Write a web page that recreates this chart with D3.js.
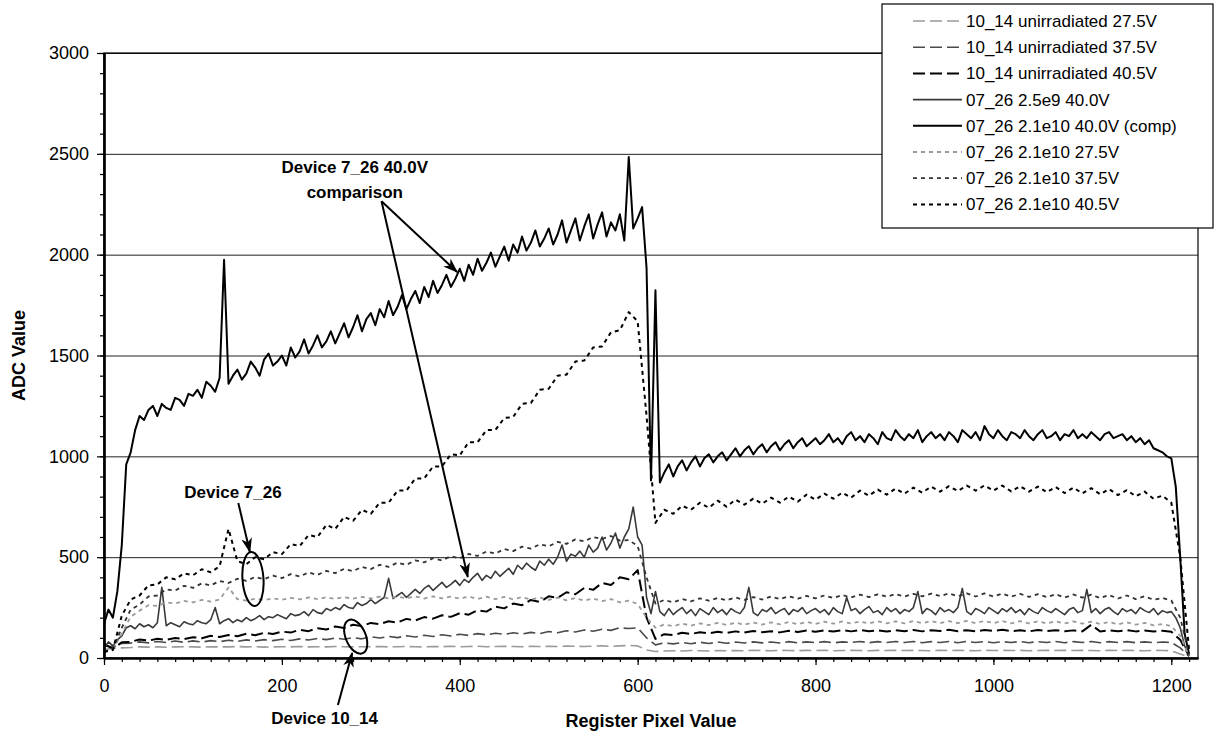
<!DOCTYPE html>
<html>
<head>
<meta charset="utf-8">
<script src="https://cdn.jsdelivr.net/npm/d3@7/dist/d3.min.js"></script>
<style>
    body { margin: 0; background: #fff; }
    svg { display: block; font-family: Arial, "Liberation Sans", sans-serif; }
</style>
</head>
<body>
<div id="chart"></div>
<script>
'use strict';

// register pixels the series were read at
var pixelsFine = d3.range(0, 1221, 5);
var pixelsCoarse = d3.range(0, 1221, 10);

var xTicks = [0, 200, 400, 600, 800, 1000, 1200];
var yTicks = [0, 500, 1000, 1500, 2000, 2500, 3000];

var seriesNames = [
    '10_14 unirradiated 27.5V',
    '10_14 unirradiated 37.5V',
    '10_14 unirradiated 40.5V',
    '07_26 2.5e9 40.0V',
    '07_26 2.1e10 40.0V (comp)',
    '07_26 2.1e10 27.5V',
    '07_26 2.1e10 37.5V',
    '07_26 2.1e10 40.5V'
];

// 10_14 unirradiated, every 10 pixels
var unirr275 = [
    40, 50, 50, 52, 55, 54, 55, 53, 55, 56,
    55, 54, 56, 55, 55, 57, 55, 56, 54, 55,
    56, 55, 57, 55, 56, 55, 57, 56, 55, 56,
    56, 57, 55, 56, 57, 56, 55, 57, 56, 58,
    56, 57, 58, 56, 57, 58, 57, 56, 58, 57,
    58, 57, 59, 58, 57, 59, 60, 58, 60, 62,
    60, 40, 32, 35, 36, 35, 37, 36, 35, 37,
    36, 37, 36, 38, 37, 36, 38, 37, 36, 38,
    37, 38, 36, 37, 38, 37, 36, 38, 37, 38,
    37, 38, 37, 36, 38, 37, 38, 37, 36, 38,
    37, 38, 37, 38, 36, 37, 38, 37, 38, 37,
    38, 37, 36, 38, 37, 38, 37, 36, 38, 37,
    36, 20, 5
];
var unirr375 = [
    60, 55, 72, 74, 80, 75, 82, 77, 84, 78,
    85, 79, 86, 81, 88, 82, 90, 84, 91, 86,
    93, 87, 95, 89, 97, 91, 99, 93, 101, 95,
    105, 99, 107, 101, 110, 104, 113, 107, 115, 109,
    118, 112, 121, 115, 123, 117, 125, 119, 127, 121,
    131, 125, 135, 129, 139, 133, 143, 137, 150, 146,
    150, 100, 65, 75, 70, 77, 71, 78, 72, 79,
    73, 79, 74, 80, 75, 79, 74, 81, 75, 80,
    76, 81, 75, 80, 77, 82, 76, 81, 77, 82,
    77, 82, 76, 81, 77, 82, 76, 82, 77, 81,
    76, 81, 77, 82, 76, 81, 77, 82, 76, 81,
    77, 82, 76, 81, 77, 81, 76, 80, 76, 79,
    77, 50, 8
];
var unirr405 = [
    70, 45, 78, 80, 92, 86, 95, 90, 99, 94,
    103, 98, 110, 104, 114, 108, 120, 113, 125, 119,
    131, 126, 140, 133, 148, 141, 156, 149, 165, 158,
    174, 168, 182, 176, 194, 186, 203, 195, 212, 204,
    222, 215, 237, 230, 255, 246, 270, 262, 288, 278,
    306, 298, 326, 316, 348, 338, 372, 362, 400, 390,
    436, 200, 95, 118, 114, 125, 119, 128, 122, 130,
    124, 132, 126, 134, 128, 133, 127, 135, 129, 136,
    130, 137, 131, 138, 132, 139, 133, 137, 131, 138,
    133, 139, 132, 138, 134, 140, 133, 138, 132, 139,
    134, 140, 133, 138, 132, 139, 134, 138, 133, 137,
    132, 165, 131, 137, 133, 138, 132, 136, 131, 135,
    130, 90, 10
];

// 07_26 at 40.0V, every 5 pixels
var low40 = [
    50, 80, 60, 90, 110, 150, 160, 145, 170, 155,
    165, 150, 175, 350, 160, 175, 165, 155, 180, 170,
    165, 185, 175, 170, 190, 250, 170, 185, 195, 175,
    190, 180, 200, 185, 195, 210, 190, 205, 200, 215,
    205, 195, 220, 210, 215, 230, 210, 240, 225, 220,
    245, 235, 250, 240, 265, 250, 245, 275, 260, 270,
    290, 270, 285, 300, 395, 295, 310, 325, 300, 320,
    340, 320, 345, 360, 335, 355, 375, 350, 365, 385,
    360, 390, 375, 400, 420, 385, 410, 395, 430, 405,
    425, 445, 415, 460, 440, 470, 450, 435, 480, 460,
    490, 465, 500, 560, 480, 515, 505, 530, 500, 560,
    525, 545, 600, 535, 570, 620, 545, 600, 640, 749,
    600, 560, 300, 220, 330, 230, 210, 245, 215, 235,
    250, 220, 240, 210, 245, 230, 215, 250, 225, 240,
    215, 245, 230, 220, 250, 350, 225, 210, 240, 230,
    250, 220, 235, 245, 215, 240, 230, 250, 220, 235,
    245, 225, 240, 215, 250, 230, 220, 300, 235, 245,
    220, 240, 255, 225, 235, 215, 250, 230, 245, 220,
    240, 230, 250, 330, 220, 245, 235, 215, 250, 230,
    240, 225, 250, 345, 230, 215, 245, 235, 220, 250,
    235, 220, 245, 230, 250, 225, 240, 215, 245, 230,
    220, 250, 235, 225, 245, 230, 215, 240, 250, 225,
    235, 340, 225, 245, 220, 240, 250, 230, 215, 245,
    230, 240, 220, 250, 235, 225, 245, 215, 235, 225,
    230, 200, 150, 60, 10
];
var comp40 = [
    170, 240, 200, 330, 560, 960, 1020, 1130, 1200, 1180,
    1230, 1250, 1200, 1260, 1240, 1230, 1290, 1280, 1250, 1310,
    1300, 1330, 1290, 1370, 1350, 1320, 1390, 1975, 1360, 1400,
    1430, 1380, 1410, 1470, 1440, 1400, 1480, 1510, 1450, 1470,
    1500, 1450, 1540, 1490, 1520, 1580, 1510, 1550, 1600, 1540,
    1570, 1620, 1560, 1610, 1660, 1590, 1640, 1700, 1620, 1680,
    1710, 1650, 1730, 1690, 1770, 1700, 1740, 1800, 1730, 1780,
    1820, 1760, 1840, 1790, 1870, 1810, 1850, 1900, 1840, 1880,
    1930, 1870, 1950, 1900, 1980, 1920, 1960, 2010, 1940, 1990,
    2040, 1970, 2050, 2010, 2090, 2020, 2060, 2120, 2040, 2080,
    2130, 2050, 2100, 2170, 2060, 2120, 2180, 2070, 2140, 2200,
    2080, 2150, 2210, 2090, 2160, 2120, 2200, 2070, 2484, 2130,
    2180, 2236, 1934, 880, 1824, 870, 920, 960, 900, 950,
    980, 930, 970, 1000, 950, 990, 1010, 970, 1000, 1020,
    980, 1010, 1040, 1000, 1030, 1050, 1010, 1040, 1060, 1020,
    1050, 1070, 1030, 1060, 1080, 1040, 1070, 1090, 1050, 1070,
    1090, 1060, 1080, 1110, 1070, 1090, 1060, 1100, 1120, 1080,
    1100, 1070, 1110, 1090, 1060, 1120, 1090, 1080, 1130, 1100,
    1080, 1110, 1090, 1130, 1070, 1100, 1120, 1090, 1110, 1080,
    1120, 1100, 1070, 1130, 1110, 1090, 1120, 1080, 1150, 1110,
    1090, 1130, 1100, 1080, 1120, 1110, 1090, 1130, 1100, 1080,
    1110, 1130, 1090, 1100, 1120, 1080, 1110, 1100, 1130, 1090,
    1110, 1090, 1120, 1100, 1080, 1110, 1120, 1090, 1100, 1110,
    1080, 1100, 1070, 1090, 1060, 1080, 1040, 1030, 1020, 1000,
    990, 850, 500, 120, 20
];

// 07_26 2.1e10, every 10 pixels
var irr275 = [
    30, 45, 120, 205, 235, 262, 258, 276, 270, 283,
    276, 288, 280, 290, 350, 292, 284, 294, 287, 296,
    289, 298, 291, 300, 292, 301, 293, 302, 294, 303,
    295, 304, 296, 305, 296, 305, 295, 306, 296, 304,
    294, 305, 293, 304, 292, 303, 291, 302, 290, 300,
    288, 299, 286, 297, 284, 295, 282, 292, 276, 284,
    268, 200, 150, 166, 158, 170, 161, 172, 163, 174,
    164, 175, 165, 176, 166, 177, 167, 178, 168, 179,
    169, 180, 170, 181, 171, 181, 171, 182, 172, 182,
    172, 183, 173, 183, 173, 183, 173, 184, 173, 184,
    173, 183, 172, 183, 172, 182, 171, 182, 171, 181,
    170, 180, 169, 178, 167, 177, 165, 174, 162, 168,
    158, 110, 10
];
var irr375 = [
    30, 45, 150, 240, 265, 305, 310, 340, 335, 358,
    348, 370, 360, 382, 372, 393, 383, 402, 391, 409,
    396, 416, 404, 424, 412, 432, 421, 442, 431, 452,
    441, 462, 452, 473, 462, 484, 474, 495, 484, 505,
    494, 516, 506, 528, 518, 540, 530, 552, 542, 564,
    554, 576, 566, 588, 578, 600, 590, 605, 582, 585,
    555, 400, 270, 288, 276, 292, 281, 296, 284, 298,
    286, 300, 288, 302, 290, 305, 292, 306, 294, 308,
    296, 310, 298, 312, 300, 314, 302, 316, 304, 317,
    305, 318, 306, 319, 307, 320, 306, 320, 305, 320,
    305, 319, 304, 318, 303, 317, 302, 316, 300, 315,
    299, 314, 297, 312, 295, 310, 292, 306, 289, 298,
    285, 200, 20
];
var irr405 = [
    30, 40, 210, 290, 310, 360, 365, 400, 390, 420,
    410, 440, 425, 455, 640, 480, 465, 500, 490, 525,
    515, 565, 555, 610, 600, 660, 640, 700, 680, 735,
    715, 770, 770, 830, 830, 890, 890, 950, 950, 1010,
    1005, 1070, 1070, 1130, 1130, 1190, 1195, 1260, 1265, 1330,
    1335, 1400, 1405, 1470, 1475, 1540, 1545, 1615, 1625, 1715,
    1670, 1200, 670, 735, 715, 755, 735, 770, 745, 780,
    750, 785, 760, 790, 765, 795, 770, 800, 775, 810,
    785, 815, 790, 820, 795, 830, 805, 835, 810, 840,
    815, 845, 820, 850, 825, 852, 828, 855, 830, 856,
    830, 855, 826, 852, 825, 850, 822, 848, 818, 845,
    816, 842, 812, 838, 808, 832, 802, 825, 790, 805,
    770, 500, 40
];

var seriesValues = [unirr275, unirr375, unirr405, low40, comp40, irr275, irr375, irr405];
var seriesPixels = [pixelsCoarse, pixelsCoarse, pixelsCoarse, pixelsFine, pixelsFine,
    pixelsCoarse, pixelsCoarse, pixelsCoarse];

var seriesStyles = [
    {color: '#9a9a9a', width: 1.6, dash: '12,5'},
    {color: '#4a4a4a', width: 1.6, dash: '12,5'},
    {color: '#000', width: 2, dash: '12,5'},
    {color: '#3a3a3a', width: 1.6, dash: null},
    {color: '#000', width: 2, dash: null},
    {color: '#9a9a9a', width: 1.8, dash: '4,4'},
    {color: '#333', width: 1.8, dash: '4,4'},
    {color: '#000', width: 2, dash: '4,4'}
];

var config = {
    width: 1214,
    height: 742,
    left: 104,
    right: 1198,
    top: 53,
    bottom: 658
};

var svg = d3.select('#chart').append('svg')
    .attr('width', config.width)
    .attr('height', config.height);

var x = d3.scaleLinear().domain([0, 1230]).range([config.left, config.right]);
var y = d3.scaleLinear().domain([0, 3000]).range([config.bottom, config.top]);

var defs = svg.append('defs');

defs.append('clipPath')
    .attr('id', 'plotClip')
    .append('rect')
    .attr('x', config.left)
    .attr('y', config.top - 2)
    .attr('width', config.right - config.left)
    .attr('height', config.bottom - config.top + 2);

defs.append('marker')
    .attr('id', 'arrow')
    .attr('viewBox', '0 0 14 10')
    .attr('refX', 13)
    .attr('refY', 5)
    .attr('markerWidth', 15)
    .attr('markerHeight', 11)
    .attr('markerUnits', 'userSpaceOnUse')
    .attr('orient', 'auto')
    .append('path')
    .attr('d', 'M0,0L14,5L0,10L4,5z')
    .attr('fill', '#000');

// gridlines
svg.append('g')
    .attr('transform', 'translate(' + config.left + ',0)')
    .call(d3.axisLeft(y).tickValues(yTicks.slice(1)).tickSize(-(config.right - config.left)).tickFormat(''))
    .call(function(g){ g.select('.domain').remove(); })
    .selectAll('line')
    .attr('stroke', '#222')
    .attr('stroke-width', 1);

svg.append('rect')
    .attr('x', config.left)
    .attr('y', config.top)
    .attr('width', config.right - config.left)
    .attr('height', config.bottom - config.top)
    .attr('fill', 'none')
    .attr('stroke', '#000')
    .attr('stroke-width', 1.2);

// series
var lines = svg.append('g').attr('clip-path', 'url(#plotClip)');

seriesValues.forEach(function(values, i){
    var pixels = seriesPixels[i];
    var style = seriesStyles[i];
    var line = d3.line()
        .x(function(d, j){ return x(pixels[j]); })
        .y(function(d){ return y(d); });

    lines.append('path')
        .datum(values)
        .attr('d', line)
        .attr('fill', 'none')
        .attr('stroke', style.color)
        .attr('stroke-width', style.width)
        .attr('stroke-dasharray', style.dash)
        .attr('stroke-linejoin', 'round');
});

// axes
function styleAxis(g){
    g.selectAll('text')
        .attr('font-size', '18px')
        .attr('fill', '#000')
        .attr('font-family', 'Arial, "Liberation Sans", sans-serif');
    g.selectAll('line').attr('stroke', '#000').attr('stroke-width', 1.2);
    g.select('.domain').attr('stroke', '#000').attr('stroke-width', 2.2);
}

var plain = d3.format('d');

svg.append('g')
    .attr('transform', 'translate(' + config.left + ',0)')
    .call(d3.axisLeft(y).tickValues(d3.range(0, 3001, 100)).tickSize(4).tickSizeOuter(0).tickFormat(''))
    .call(styleAxis);

svg.append('g')
    .attr('transform', 'translate(' + config.left + ',0)')
    .call(d3.axisLeft(y).tickValues(yTicks).tickSize(7).tickSizeOuter(0).tickPadding(8).tickFormat(plain))
    .call(styleAxis);

svg.append('g')
    .attr('transform', 'translate(0,' + config.bottom + ')')
    .call(d3.axisBottom(x).tickValues(d3.range(0, 1230, 20)).tickSize(4).tickSizeOuter(0).tickFormat(''))
    .call(styleAxis);

svg.append('g')
    .attr('transform', 'translate(0,' + config.bottom + ')')
    .call(d3.axisBottom(x).tickValues(xTicks).tickSize(7).tickSizeOuter(0).tickPadding(14).tickFormat(plain))
    .call(styleAxis);

// axis titles
svg.append('text')
    .attr('transform', 'translate(25,' + ((config.top + config.bottom) / 2) + ')rotate(-90)')
    .attr('text-anchor', 'middle')
    .attr('font-size', '18px')
    .attr('font-weight', 'bold')
    .text('ADC Value');

svg.append('text')
    .attr('x', (config.left + config.right) / 2)
    .attr('y', 727)
    .attr('text-anchor', 'middle')
    .attr('font-size', '18px')
    .attr('font-weight', 'bold')
    .text('Register Pixel Value');

// annotations, in data units
var notes = svg.append('g');

function arrow(from, to){
    notes.append('line')
        .attr('x1', x(from[0])).attr('y1', y(from[1]))
        .attr('x2', x(to[0])).attr('y2', y(to[1]))
        .attr('stroke', '#000')
        .attr('stroke-width', 2)
        .attr('marker-end', 'url(#arrow)');
}

function label(pos, lines){
    var t = notes.append('text')
        .attr('text-anchor', 'middle')
        .attr('font-size', '17px')
        .attr('font-weight', 'bold');
    lines.forEach(function(s, i){
        t.append('tspan')
            .attr('x', x(pos[0]))
            .attr('y', y(pos[1]) + i * 25)
            .text(s);
    });
}

function ring(pos, rx, ry, angle){
    notes.append('ellipse')
        .attr('transform', 'translate(' + x(pos[0]) + ',' + y(pos[1]) + ')rotate(' + angle + ')')
        .attr('rx', rx)
        .attr('ry', ry)
        .attr('fill', 'none')
        .attr('stroke', '#000')
        .attr('stroke-width', 2);
}

label([282, 2405], ['Device 7_26 40.0V', 'comparison']);
arrow([312, 2265], [397, 1914]);
arrow([312, 2265], [409, 402]);

label([145, 793], ['Device 7_26']);
arrow([151, 769], [164, 526]);
ring([167.5, 392], 10.5, 27, -4);

label([248, -327], ['Device 10_14']);
arrow([263, -233], [279, 25]);
ring([283, 106], 10, 18, -23);

// legend
var legend = svg.append('g');

legend.append('rect')
    .attr('x', 882)
    .attr('y', 4)
    .attr('width', 331)
    .attr('height', 224)
    .attr('fill', '#fff')
    .attr('stroke', '#000')
    .attr('stroke-width', 1.2);

seriesNames.forEach(function(name, i){
    var style = seriesStyles[i];
    var ly = 21 + i * 26.2;
    legend.append('line')
        .attr('x1', 913).attr('x2', 962)
        .attr('y1', ly).attr('y2', ly)
        .attr('stroke', style.color)
        .attr('stroke-width', style.width)
        .attr('stroke-dasharray', style.dash);
    legend.append('text')
        .attr('x', 966)
        .attr('y', ly + 6)
        .attr('font-size', '17px')
        .text(name);
});
</script>
</body>
</html>
